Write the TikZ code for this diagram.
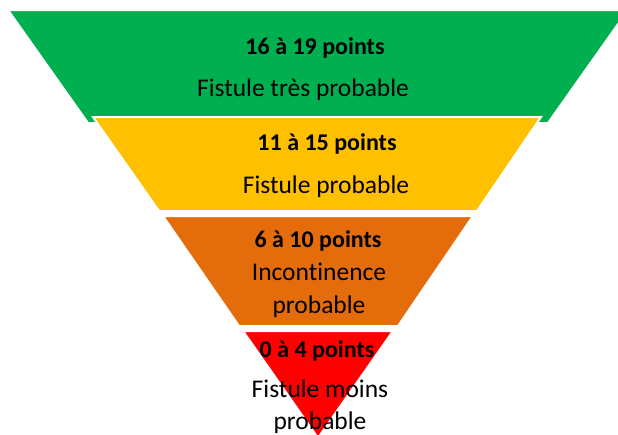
\documentclass[tikz,border=0pt]{standalone}
\usepackage{fontspec}
\setmainfont{Carlito}[Ligatures=NoCommon]
\definecolor{bandgreen}{RGB}{0,176,80}
\definecolor{bandyellow}{RGB}{255,192,0}
\definecolor{bandorange}{RGB}{228,108,10}
\definecolor{bandred}{RGB}{255,0,0}

\begin{document}
\begin{tikzpicture}[
    x=1pt, y=-1pt,
    band/.style={draw=white, line width=2pt, line join=miter},
    score/.style={anchor=mid, inner sep=0pt, font=\fontsize{24}{29}\selectfont\bfseries},
    verdict/.style={anchor=mid, inner sep=0pt, font=\fontsize{25.5}{31}\selectfont}
]
    \useasboundingbox (0,0) rectangle (618,434);
    % bands of the inverted pyramid
    \filldraw[band, fill=bandgreen]  (8,10) -- (628,10) -- (548,123) -- (88,123) -- cycle;
    \filldraw[band, fill=bandyellow] (93,117) -- (541,117) -- (477,211) -- (159,211) -- cycle;
    \filldraw[band, fill=bandorange] (163,216) -- (473,216) -- (398,326) -- (239,326) -- cycle;
    \filldraw[band, fill=bandred]    (243,331) -- (393,331) -- (318,438) -- cycle;
    % labels
    \node[score]   (s1)  at (315,52)  {16 à 19 points};
    \node[verdict] (v1)  at (303,94)  {Fistule très probable};
    \node[score]   (s2)  at (327,148) {11 à 15 points};
    \node[verdict] (v2)  at (326,191) {Fistule probable};
    \node[score]   (s3)  at (318,245) {6 à 10 points};
    \node[verdict] (v3a) at (319,278) {Incontinence};
    \node[verdict] (v3b) at (319,311) {probable};
    \node[score]   (s4)  at (317,355) {0 à 4 points};
    \node[verdict] (v4a) at (320,395) {Fistule moins};
    \node[verdict] (v4b) at (320,427) {probable};
\end{tikzpicture}
\end{document}
